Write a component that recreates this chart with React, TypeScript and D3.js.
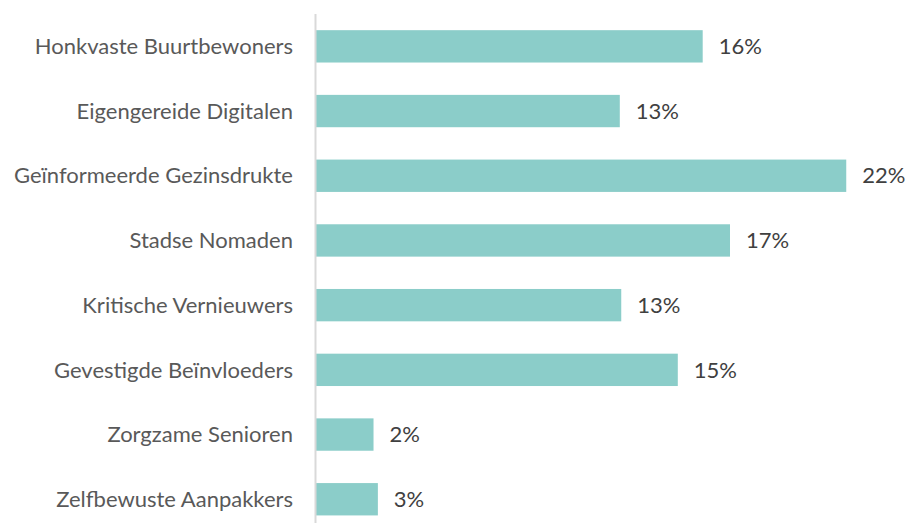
import { useEffect, useRef } from "react";
import * as d3 from "d3";

// segmenten, van boven naar beneden
const categories = [
  "Honkvaste Buurtbewoners",
  "Eigengereide Digitalen",
  "Geïnformeerde Gezinsdrukte",
  "Stadse Nomaden",
  "Kritische Vernieuwers",
  "Gevestigde Beïnvloeders",
  "Zorgzame Senioren",
  "Zelfbewuste Aanpakkers",
];
const values = [16.0, 12.57, 21.94, 17.13, 12.63, 14.97, 2.38, 2.56];
const valueLabels = ["16%", "13%", "22%", "17%", "13%", "15%", "2%", "3%"];

export default function App() {
  const ref = useRef<SVGSVGElement>(null);

  useEffect(() => {
    document.body.style.margin = "0";
    document.body.style.overflow = "hidden";

    const svg = d3.select(ref.current);
    const width = 909;
    const height = 523;
    const x0 = 316;

    svg.selectAll("*").remove();
    svg.attr("width", width).attr("height", height);

    const x = d3.scaleLinear().domain([0, 22]).range([x0, 847.7]);
    const y = d3
      .scaleBand<string>()
      .domain(categories)
      .range([14, 14 + 64.7 * categories.length])
      .paddingInner(0.5)
      .paddingOuter(0.25);

    const data = categories.map((c, i) => ({ c, v: values[i], label: valueLabels[i] }));

    svg
      .selectAll("rect.bar")
      .data(data)
      .join("rect")
      .attr("class", "bar")
      .attr("x", x(0))
      .attr("y", (d) => y(d.c)!)
      .attr("width", (d) => x(d.v) - x(0))
      .attr("height", y.bandwidth())
      .attr("fill", "#8bcdc9");

    svg
      .append("line")
      .attr("x1", x0 - 0.5)
      .attr("x2", x0 - 0.5)
      .attr("y1", 14)
      .attr("y2", height)
      .attr("stroke", "#d9d9d9")
      .attr("stroke-width", 2);

    svg
      .selectAll("text.cat")
      .data(data)
      .join("text")
      .attr("class", "cat")
      .attr("x", 293)
      .attr("y", (d) => y(d.c)! + y.bandwidth() / 2)
      .attr("dy", "0.35em")
      .attr("text-anchor", "end")
      .attr("font-family", "Lato, 'Open Sans', sans-serif")
      .attr("font-size", 22)
      .attr("fill", "#595959")
      .text((d) => d.c);

    svg
      .selectAll("text.val")
      .data(data)
      .join("text")
      .attr("class", "val")
      .attr("x", (d) => x(d.v) + 16)
      .attr("y", (d) => y(d.c)! + y.bandwidth() / 2)
      .attr("dy", "0.35em")
      .attr("font-family", "Lato, 'Open Sans', sans-serif")
      .attr("font-size", 22)
      .attr("fill", "#404040")
      .text((d) => d.label);
  }, []);

  return (
    <div>
      <svg ref={ref} style={{ display: "block" }} />
    </div>
  );
}
